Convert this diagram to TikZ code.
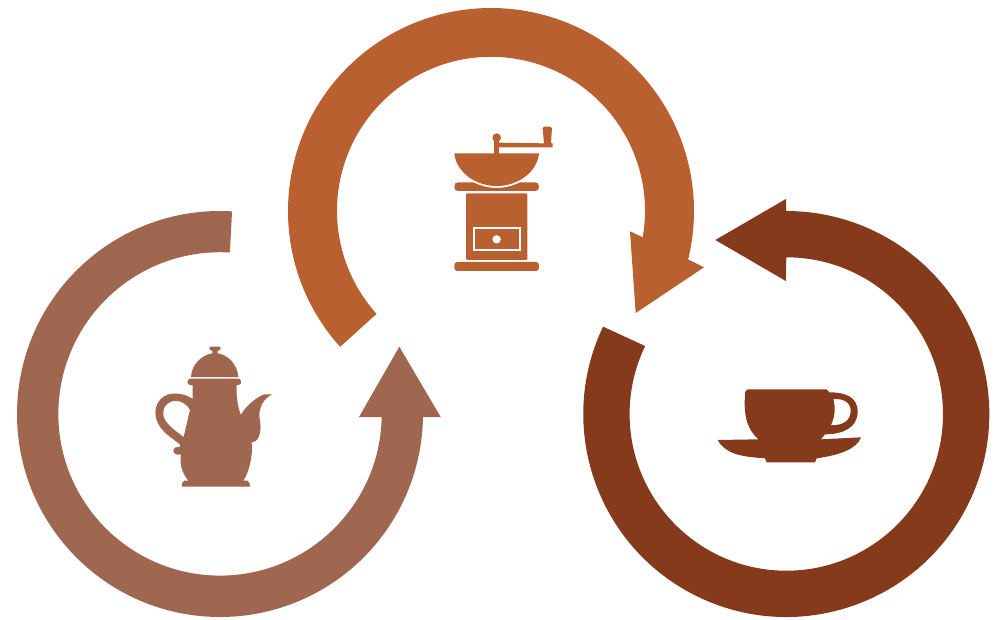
\documentclass[tikz,border=0pt]{standalone}
\definecolor{potc}{HTML}{A06750}
\definecolor{grindc}{HTML}{B86030}
\definecolor{cupc}{HTML}{843A1B}
\tikzset{icon/.style={shift={#1},x=0.3333pt,y=-0.3333pt}}
\begin{document}
\begin{tikzpicture}[x=1pt,y=-1pt]
\useasboundingbox (0,0) rectangle (994,619);
% left ring
\fill[potc] (220,414)+(273.4:203) arc[start angle=273.4,end angle=0.85,radius=203] -- (440.7,417) -- (399.3,346.7) -- (359,417) -- (381.7,417) arc[start angle=1.1,end angle=273.5,radius=161.7] -- cycle;
% centre ring
\fill[grindc] (491,211)+(138:203) arc[start angle=138,end angle=373.8,radius=203] -- (704,267.3) -- (635.7,313) -- (630,231.3) -- (642.7,237.3) arc[start angle=9.9,end angle=-222,radius=154] -- cycle;
% right ring
\fill[cupc] (786.3,414)+(205.5:203) arc[start angle=205.5,end angle=-90,radius=203] -- (785.9,199) -- (715.3,240) -- (785.9,281) -- (786.3,257.3) arc[start angle=-90,end angle=205.7,radius=156.7] -- cycle;
% pot
\begin{scope}[icon={(140,335)}]
\fill[potc] (153,126) .. controls (155,88) and (185,60) .. (217,55) -- (217,48) .. controls (207,46) and (205,35) .. (213,35) -- (237,35) .. controls (245,35) and (243,46) .. (233,48) -- (233,55) .. controls (265,60) and (292,88) .. (295,126) -- cycle;
\fill[potc] (150,131) -- (296,131) .. controls (306,133) and (306,148) .. (296,150) -- (150,150) .. controls (140,148) and (140,133) .. (150,131) -- cycle;
\fill[potc,even odd rule] (158,150) -- (290,150) .. controls (288,175) and (292,215) .. (303,240) .. controls (315,215) and (345,190) .. (372,178) -- (397,178) .. controls (372,190) and (357,215) .. (358,245) .. controls (362,265) and (365,290) .. (355,308) .. controls (350,318) and (342,322) .. (335,322) .. controls (340,365) and (325,415) .. (310,437) -- (322,437) .. controls (328,440) and (331,448) .. (330,455) -- (125,455) .. controls (124,448) and (127,440) .. (133,437) -- (145,437) .. controls (125,412) and (118,385) .. (123,358) .. controls (110,362) and (100,355) .. (100,347) .. controls (100,338) and (110,335) .. (120,336) .. controls (122,330) and (120,326) .. (112,322) .. controls (85,302) and (60,285) .. (50,255) .. controls (40,225) and (50,190) .. (85,178) .. controls (110,172) and (140,178) .. (158,192) -- cycle
(150,225) .. controls (140,205) and (115,192) .. (93,200) .. controls (75,207) and (65,225) .. (72,248) .. controls (80,270) and (110,290) .. (131,306) -- cycle;
\end{scope}
% grinder
\begin{scope}[icon={(440,115)}]
\fill[grindc] (170,68) circle[radius=13];
\fill[grindc] (163,75) rectangle (177,116);
\fill[grindc] (177,83) -- (312,85) -- (308,40) .. controls (308,36) and (310,35) .. (312,35) -- (331,35) .. controls (335,35) and (336,37) .. (336,40) -- (333,84) -- (338,85) -- (338,97) -- (177,97) -- cycle;
\fill[grindc] (43,115) -- (297,115) .. controls (292,170) and (235,213) .. (170,213) .. controls (105,213) and (48,170) .. (43,115) -- cycle;
\fill[grindc] (43,215) .. controls (43,206) and (47,202) .. (55,202) -- (100,202) .. controls (120,212) and (145,219) .. (170,219) .. controls (195,219) and (220,212) .. (240,202) -- (285,202) .. controls (293,202) and (297,206) .. (297,215) .. controls (297,224) and (293,228) .. (285,228) -- (55,228) .. controls (47,228) and (43,224) .. (43,215) -- cycle;
\fill[grindc,rounded corners=1pt] (78,235) rectangle (262,435);
\draw[white,line width=1.7pt] (101,339) rectangle (239,406);
\fill[white] (170,373) circle[radius=12.5];
\fill[grindc,rounded corners=3pt] (43,441) rectangle (297,468);
\end{scope}
% cup
\begin{scope}[icon={(705,375)}]
\fill[cupc,even odd rule] (128,43) -- (365,43) -- (373,52) .. controls (420,52) and (458,65) .. (458,110) .. controls (458,160) and (410,178) .. (360,178) -- (348,193) -- (468,187) .. controls (455,222) and (405,240) .. (335,250) -- (330,262) -- (185,262) -- (180,250) .. controls (110,245) and (62,238) .. (38,195) -- (160,193) .. controls (130,165) and (115,130) .. (120,60) .. controls (120,50) and (122,45) .. (128,43) -- cycle
(385,72) .. controls (420,70) and (438,85) .. (437,110) .. controls (435,140) and (410,152) .. (378,150) .. controls (390,125) and (392,100) .. (385,72) -- cycle;
\end{scope}
\end{tikzpicture}
\end{document}
